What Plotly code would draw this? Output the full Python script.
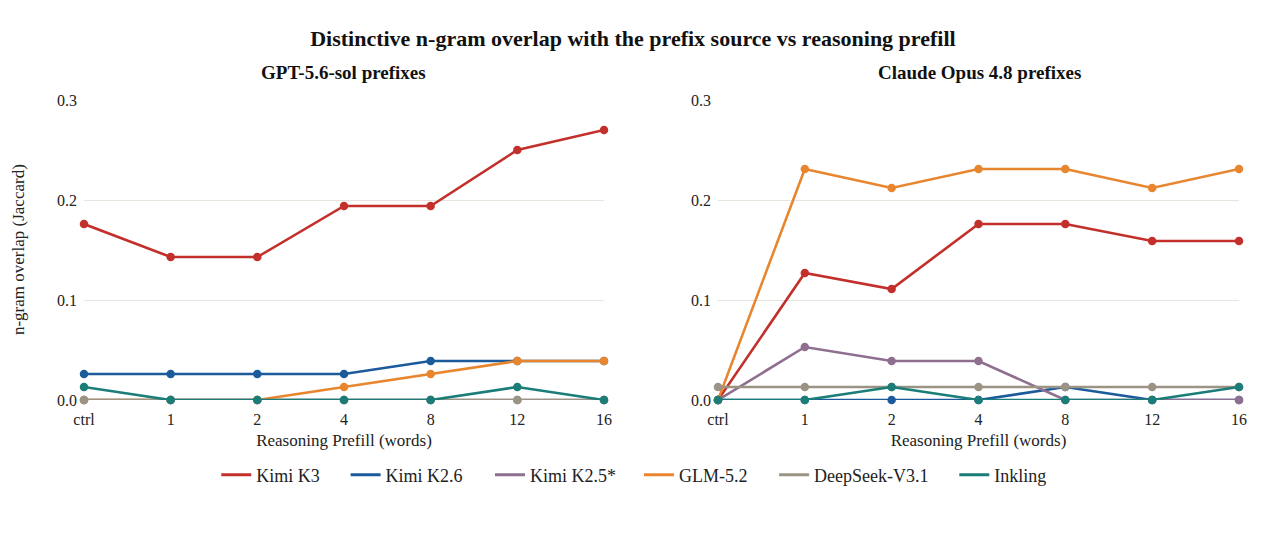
import plotly.graph_objects as go
from plotly.subplots import make_subplots

prefill = ["ctrl", "1", "2", "4", "8", "12", "16"]
models = ["Kimi K3", "Kimi K2.6", "Kimi K2.5*", "GLM-5.2", "DeepSeek-V3.1", "Inkling"]
colors = ["#c3302c", "#1b5a9b", "#8f6f90", "#e8862f", "#9b9485", "#1a7d78"]

# GPT-5.6-sol prefixes
gpt_kimi_k3 = [0.176, 0.143, 0.143, 0.194, 0.194, 0.250, 0.270]
gpt_kimi_k26 = [0.026, 0.026, 0.026, 0.026, 0.039, 0.039, 0.039]
gpt_kimi_k25 = [0.0, 0.0, 0.0, 0.0, 0.0, 0.0, 0.0]
gpt_glm = [0.0, 0.0, 0.0, 0.013, 0.026, 0.039, 0.039]
gpt_deepseek = [0.0, 0.0, 0.0, 0.0, 0.0, 0.0, 0.0]
gpt_inkling = [0.013, 0.0, 0.0, 0.0, 0.0, 0.013, 0.0]

# Claude Opus 4.8 prefixes
opus_kimi_k3 = [0.0, 0.127, 0.111, 0.176, 0.176, 0.159, 0.159]
opus_kimi_k26 = [0.0, 0.0, 0.0, 0.0, 0.013, 0.0, 0.0]
opus_kimi_k25 = [0.0, 0.053, 0.039, 0.039, 0.0, 0.0, 0.0]
opus_glm = [0.0, 0.231, 0.212, 0.231, 0.231, 0.212, 0.231]
opus_deepseek = [0.013, 0.013, 0.013, 0.013, 0.013, 0.013, 0.013]
opus_inkling = [0.0, 0.0, 0.013, 0.0, 0.0, 0.0, 0.013]

gpt_series = [gpt_kimi_k3, gpt_kimi_k26, gpt_kimi_k25, gpt_glm, gpt_deepseek, gpt_inkling]
opus_series = [opus_kimi_k3, opus_kimi_k26, opus_kimi_k25, opus_glm, opus_deepseek, opus_inkling]

# left edge of each legend entry, in paper units
legend_x = [0.1145, 0.2265, 0.3515, 0.4805, 0.5975, 0.7535]

FONT = "Liberation Serif"

fig = make_subplots(rows=1, cols=2, subplot_titles=("<b>GPT-5.6-sol prefixes</b>",
                                                    "<b>Claude Opus 4.8 prefixes</b>"))

for col, series in [(1, gpt_series), (2, opus_series)]:
    for name, color, vals in zip(models, colors, series):
        fig.add_trace(go.Scatter(
            x=prefill,
            y=vals,
            mode='lines+markers',
            name=name,
            legendgroup=name,
            showlegend=False,
            line=dict(color=color, width=2.6),
            marker=dict(color=color, size=8.5),
            cliponaxis=False,
        ), row=1, col=col)

# legend entries drawn as plain lines, one legend box each so the spacing matches
for i, (name, color) in enumerate(zip(models, colors)):
    key = 'legend' if i == 0 else 'legend%d' % (i + 1)
    fig.add_trace(go.Scatter(
        x=[None], y=[None],
        mode='lines',
        name=name,
        legendgroup=name,
        legend=key,
        line=dict(color=color, width=3),
    ), row=1, col=1)
    fig.update_layout({key: dict(
        orientation='h',
        xanchor='left',
        x=legend_x[i],
        yanchor='middle',
        y=-0.25,
        font=dict(family=FONT, size=18, color='#222222'),
        bgcolor='rgba(0,0,0,0)',
    )})

fig.update_layout(
    width=1265,
    height=553,
    title=dict(
        text="<b>Distinctive n-gram overlap with the prefix source vs reasoning prefill</b>",
        x=0.494,
        xanchor='center',
        y=1 - 30 / 553,
        yanchor='middle',
        font=dict(family=FONT, size=22, color='#111111'),
    ),
    font=dict(family=FONT, size=16, color='#222222'),
    paper_bgcolor='white',
    plot_bgcolor='white',
    margin=dict(l=76, r=34, t=92, b=161, autoexpand=False),
)

for ann in fig.layout.annotations:
    ann.y = 1.09
    ann.yanchor = 'middle'
    ann.font = dict(family=FONT, size=19, color='#111111')

# y-axis title placed by hand at the far left
fig.add_annotation(
    text="n-gram overlap (Jaccard)",
    xref='paper', yref='paper',
    x=-0.0571, y=0.5,
    xanchor='center', yanchor='middle',
    textangle=-90,
    showarrow=False,
    font=dict(family=FONT, size=17, color='#222222'),
)

fig.update_xaxes(
    type='category',
    range=[0, 6],
    showgrid=False,
    zeroline=False,
    showline=False,
    ticks='',
    ticklabelstandoff=8,
    automargin=False,
    title=dict(text="Reasoning Prefill (words)", standoff=7, font=dict(family=FONT, size=17)),
    tickfont=dict(family=FONT, size=16, color='#222222'),
)
fig.update_yaxes(
    range=[0, 0.3],
    dtick=0.1,
    tickformat='.1f',
    showgrid=True,
    gridcolor='#e6e4dc',
    gridwidth=1,
    zeroline=False,
    showline=False,
    automargin=False,
    ticklabelstandoff=6,
    tickfont=dict(family=FONT, size=16, color='#222222'),
)

fig.layout.xaxis.domain = [0.0, 0.4502]
fig.layout.xaxis2.domain = [0.5489, 1.0]

fig.write_html("out.html")
